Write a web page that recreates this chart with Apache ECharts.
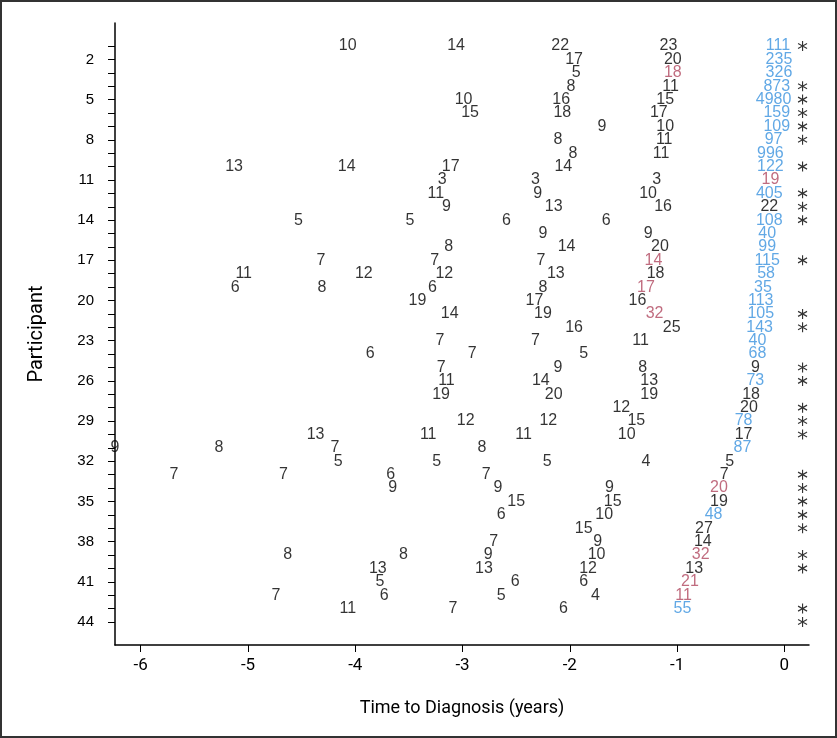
<!DOCTYPE html>
<html><head><meta charset="utf-8">
<script src="https://cdn.jsdelivr.net/npm/echarts@6/dist/echarts.min.js"></script>
<style>html,body{margin:0;padding:0;background:#fff}#c{width:837px;height:738px}</style>
</head><body><div id="c"></div>
<script>
// [time to diagnosis (years), participant, value]
const blackLabels = [
[-4.07,1,10],[-3.06,1,14],[-2.09,1,22],[-1.08,1,23],
[-1.96,2,17],[-1.04,2,20],
[-1.94,3,5],
[-1.99,4,8],[-1.06,4,11],
[-2.99,5,10],[-2.08,5,16],[-1.11,5,15],
[-2.93,6,15],[-2.07,6,18],[-1.17,6,17],
[-1.70,7,9],[-1.11,7,10],
[-2.11,8,8],[-1.12,8,11],
[-1.97,9,8],[-1.15,9,11],
[-5.13,10,13],[-4.08,10,14],[-3.11,10,17],[-2.06,10,14],
[-3.19,11,3],[-2.32,11,3],[-1.19,11,3],
[-3.25,12,11],[-2.30,12,9],[-1.27,12,10],
[-3.15,13,9],[-2.15,13,13],[-1.13,13,16],[-0.14,13,22],
[-4.53,14,5],[-3.49,14,5],[-2.59,14,6],[-1.66,14,6],
[-2.25,15,9],[-1.27,15,9],
[-3.13,16,8],[-2.03,16,14],[-1.16,16,20],
[-4.32,17,7],[-3.26,17,7],[-2.27,17,7],
[-5.04,18,11],[-3.92,18,12],[-3.17,18,12],[-2.13,18,13],[-1.20,18,18],
[-5.12,19,6],[-4.31,19,8],[-3.28,19,6],[-2.25,19,8],
[-3.42,20,19],[-2.33,20,17],[-1.37,20,16],
[-3.12,21,14],[-2.25,21,19],
[-1.96,22,16],[-1.05,22,25],
[-3.21,23,7],[-2.32,23,7],[-1.34,23,11],
[-3.86,24,6],[-2.91,24,7],[-1.87,24,5],
[-3.20,25,7],[-2.11,25,9],[-1.32,25,8],[-0.27,25,9],
[-3.15,26,11],[-2.27,26,14],[-1.26,26,13],
[-3.20,27,19],[-2.15,27,20],[-1.26,27,19],[-0.31,27,18],
[-1.52,28,12],[-0.33,28,20],
[-2.97,29,12],[-2.20,29,12],[-1.38,29,15],
[-4.37,30,13],[-3.32,30,11],[-2.43,30,11],[-1.47,30,10],[-0.38,30,17],
[-6.24,31,9],[-5.27,31,8],[-4.19,31,7],[-2.82,31,8],
[-4.16,32,5],[-3.24,32,5],[-2.21,32,5],[-1.29,32,4],[-0.51,32,5],
[-5.69,33,7],[-4.67,33,7],[-3.67,33,6],[-2.78,33,7],[-0.56,33,7],
[-3.65,34,9],[-2.67,34,9],[-1.63,34,9],
[-2.50,35,15],[-1.60,35,15],[-0.61,35,19],
[-2.64,36,6],[-1.68,36,10],
[-1.87,37,15],[-0.75,37,27],
[-2.71,38,7],[-1.74,38,9],[-0.76,38,14],
[-4.63,39,8],[-3.55,39,8],[-2.76,39,9],[-1.75,39,10],
[-3.79,40,13],[-2.80,40,13],[-1.83,40,12],[-0.84,40,13],
[-3.77,41,5],[-2.51,41,6],[-1.87,41,6],
[-4.74,42,7],[-3.73,42,6],[-2.64,42,5],[-1.76,42,4],
[-4.07,43,11],[-3.09,43,7],[-2.06,43,6]
];
const redLabels = [
[-1.04,3,18],[-0.13,11,19],[-1.22,17,14],[-1.29,19,17],[-1.21,21,32],
[-0.61,34,20],[-0.78,39,32],[-0.88,41,21],[-0.94,42,11]
];
const blueLabels = [
[-0.06,1,111],[-0.05,2,235],[-0.05,3,326],[-0.07,4,873],[-0.10,5,4980],
[-0.07,6,159],[-0.07,7,109],[-0.10,8,97],[-0.13,9,996],[-0.13,10,122],
[-0.14,12,405],[-0.14,14,108],[-0.16,15,40],[-0.16,16,99],[-0.16,17,115],
[-0.17,18,58],[-0.20,19,35],[-0.22,20,113],[-0.22,21,105],[-0.23,22,143],
[-0.25,23,40],[-0.25,24,68],[-0.27,26,73],[-0.38,29,78],[-0.39,31,87],
[-0.66,36,48],[-0.95,43,55]
];
const asteriskX = 0.17;
const asteriskRows = [1,4,5,6,7,8,10,12,13,14,17,21,22,25,26,28,29,30,33,34,35,36,37,39,40,43,44];
const xTicks = [-6,-5,-4,-3,-2,-1,0];
const yTicks = []; for (let i = 1; i <= 44; i++) yTicks.push(i);
const yTickLabels = [2,5,8,11,14,17,20,23,26,29,32,35,38,41,44];

const FONT = '"Liberation Sans", Arial, sans-serif';
const NARROW = 'Roboto, sans-serif';

function textSeries(data, color) {
  return {
    type: 'scatter', data: data, symbolSize: 1, clip: false,
    itemStyle: { color: 'rgba(0,0,0,0)' },
    label: { show: true, position: 'inside', formatter: p => String(p.value[2]),
      color: color, fontSize: 16, fontFamily: FONT, align: 'center', verticalAlign: 'middle' },
    emphasis: { disabled: true }, silent: true
  };
}

const chart = echarts.init(document.getElementById('c'));
chart.setOption({
  animation: false,
  backgroundColor: '#fff',
  grid: { left: 115, right: 28, top: 23, bottom: 93 },
  xAxis: {
    type: 'value', min: -6.24, max: 0.23,
    name: 'Time to Diagnosis (years)', nameLocation: 'middle', nameGap: 54,
    nameTextStyle: { fontSize: 18, fontFamily: NARROW, color: '#000' },
    axisLine: { show: true, onZero: false, lineStyle: { color: '#000', width: 1.5 } },
    axisTick: { show: true, length: 7, customValues: xTicks, lineStyle: { color: '#000' } },
    axisLabel: { customValues: xTicks, fontSize: 17, fontFamily: NARROW, color: '#000', margin: 12 },
    splitLine: { show: false }
  },
  yAxis: {
    type: 'value', inverse: true, min: -0.72, max: 45.72,
    name: 'Participant', nameLocation: 'middle', nameGap: 68, nameRotate: 90,
    nameTextStyle: { fontSize: 20, fontFamily: NARROW, color: '#000' },
    axisLine: { show: true, onZero: false, lineStyle: { color: '#000', width: 1.5 } },
    axisTick: { show: true, length: 7, customValues: yTicks, lineStyle: { color: '#000' } },
    axisLabel: { customValues: yTickLabels, fontSize: 15, fontFamily: FONT, color: '#000', margin: 21 },
    splitLine: { show: false }
  },
  graphic: [{ type: 'rect', shape: { x: 1, y: 1, width: 835, height: 736 },
    style: { fill: 'none', stroke: '#333', lineWidth: 2 }, silent: true }],
  series: [
    textSeries(blackLabels, '#000'),
    textSeries(redLabels, '#b0475f'),
    textSeries(blueLabels, '#3a92de'),
    {
      type: 'scatter', data: asteriskRows.map(r => [asteriskX, r]), clip: false,
      symbol: 'path://M0,-5L0,5M-4.33,-2.5L4.33,2.5M-4.33,2.5L4.33,-2.5',
      symbolSize: [9, 10],
      itemStyle: { color: 'none', borderColor: '#000', borderWidth: 1.2 },
      silent: true
    }
  ]
});
</script></body></html>
